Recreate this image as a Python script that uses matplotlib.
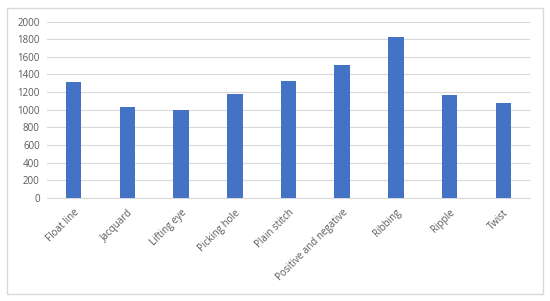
import matplotlib.pyplot as plt
from matplotlib.patches import Rectangle

categories = ['Float line', 'Jacquard', 'Lifting eye', 'Picking hole', 'Plain stitch',
              'Positive and negative', 'Ribbing', 'Ripple', 'Twist']
values = [1311, 1027, 1000, 1182, 1326, 1508, 1830, 1163, 1073]
yticks = [0, 200, 400, 600, 800, 1000, 1200, 1400, 1600, 1800, 2000]

plt.rcParams['font.family'] = ['Open Sans', 'DejaVu Sans']

fig = plt.figure(figsize=(5.5, 3.01), dpi=100)
fig.patches.append(Rectangle((7 / 550, 1 - 294 / 301), 536 / 550, 286 / 301,
                             transform=fig.transFigure, fill=False,
                             edgecolor='#d9d9d9', linewidth=1))

ax = fig.add_axes([0.085, 0.343, 0.879, 0.585])
x = range(len(categories))
ax.bar(x, values, width=0.29, color='#4472c4', zorder=3)

ax.set_xlim(-0.5, len(categories) - 0.5)
ax.set_ylim(0, 2000)
ax.set_yticks(yticks)
ax.set_xticks(list(x))
ax.set_xticklabels(categories, rotation=45, ha='right', rotation_mode='anchor')
ax.tick_params(axis='both', length=0, labelsize=7, colors='#595959')
ax.tick_params(axis='x', pad=7)
ax.tick_params(axis='y', pad=5)
ax.grid(axis='y', color='#d9d9d9', linewidth=0.8, zorder=0)
for s in ['top', 'right', 'left']:
    ax.spines[s].set_visible(False)
ax.spines['bottom'].set_color('#d9d9d9')

fig.savefig('out.png', dpi=100)
